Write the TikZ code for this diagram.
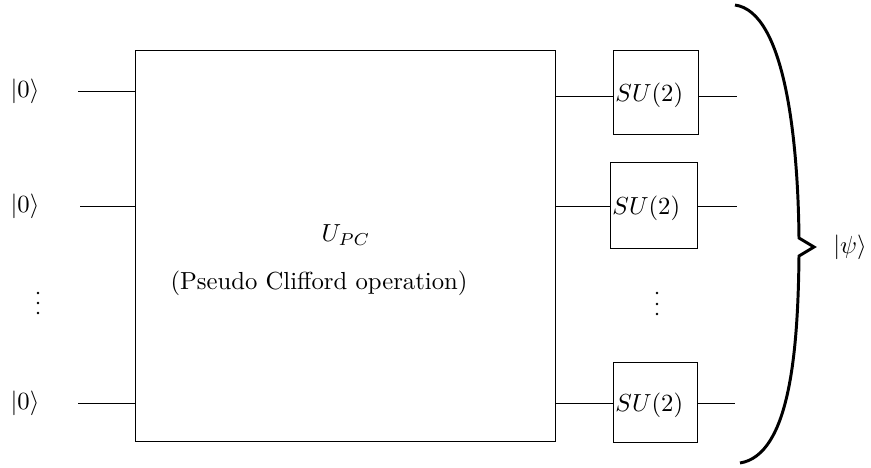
\documentclass[tikz,border=0pt]{standalone}
\begin{document}
\begin{tikzpicture}[x=0.405pt,y=-0.405pt,
  wire/.style={line width=0.4pt},
  gatebox/.style={draw,line width=0.4pt,inner sep=0pt},
  lbl/.style={inner sep=0pt},
  dot/.style={fill,circle,inner sep=0pt,minimum size=1.1pt}]
\useasboundingbox (0,0) rectangle (871,468);
% big box
\node[gatebox,minimum width=420*0.405pt,minimum height=391*0.405pt] (U) at (345,245.5) {};
\node[lbl] (ulab) at (346,235) {$U_{PC}$};
\node[lbl] (uop) at (319,283) {(Pseudo Clifford operation)};
% left labels
\node[lbl] (k1) at (25,91) {$|0\rangle$};
\node[lbl] (k2) at (25,206) {$|0\rangle$};
\node[dot] (ld1) at (38,293) {};
\node[dot] (ld2) at (38,303) {};
\node[dot] (ld3) at (38,313) {};
\node[lbl] (k3) at (25,403) {$|0\rangle$};
\coordinate (l1) at (78,91); \coordinate (l1e) at (135,91);
\coordinate (l2) at (80,206); \coordinate (l2e) at (135,206);
\coordinate (l3) at (78,403); \coordinate (l3e) at (135,403);
\draw[wire] (l1) -- (l1e);
\draw[wire] (l2) -- (l2e);
\draw[wire] (l3) -- (l3e);
% SU(2) boxes
\node[gatebox,minimum width=85*0.405pt,minimum height=84*0.405pt] (g1) at (655.5,92) {};
\node[gatebox,minimum width=87*0.405pt,minimum height=86*0.405pt] (g2) at (653.5,205) {};
\node[gatebox,minimum width=84*0.405pt,minimum height=80*0.405pt] (g3) at (655,402) {};
\node[lbl,anchor=west] at ([xshift=1pt,yshift=-1.5pt]g1.west) {$SU(2)$};
\node[lbl,anchor=west] at ([xshift=1pt,yshift=-1.5pt]g2.west) {$SU(2)$};
\node[lbl,anchor=west] at ([xshift=1pt,yshift=-1.5pt]g3.west) {$SU(2)$};
\node[dot] (rd1) at (657,293) {};
\node[dot] (rd2) at (657,304) {};
\node[dot] (rd3) at (657,314) {};
\draw[wire] (555,96) -- (g1.west |- 0,96);
\draw[wire] (555,206) -- (g2.west |- 0,206);
\draw[wire] (555,403) -- (g3.west |- 0,403);
\coordinate (r1) at (737,96); \coordinate (r2) at (737,206); \coordinate (r3) at (735,403);
\draw[wire] (g1.east |- r1) -- (r1);
\draw[wire] (g2.east |- r2) -- (r2);
\draw[wire] (g3.east |- r3) -- (r3);
% brace
\draw[line width=1.2pt,line join=miter] (735,5) .. controls (785,12) and (798,140) .. (799,238) -- (814,247) -- (799,256) .. controls (798,350) and (790,455) .. (740,463);
\node[lbl] (psi) at (850,247) {$|\psi\rangle$};
\end{tikzpicture}
\end{document}
